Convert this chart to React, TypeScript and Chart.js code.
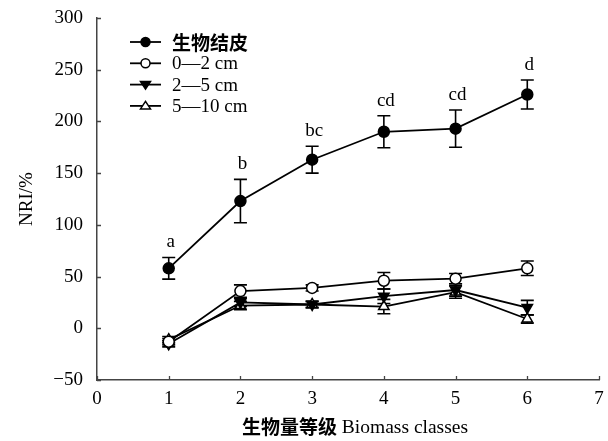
import React, { useEffect, useRef } from "react";
import { Chart, registerables } from "chart.js";

Chart.register(...registerables);

const classes = [1, 2, 3, 4, 5, 6];
const seriesNames = ["生物结皮", "0—2 cm", "2—5 cm", "5—10 cm"];
const biocrust = [58, 123, 163, 190, 193, 226];
const biocrustErr = [10.5, 21, 13, 15.5, 18, 14];
const depth0to2 = [-13, 36, 39, 46, 48, 58];
const depth0to2Err = [3, 6, 3, 8, 5, 7];
const depth2to5 = [-15, 25, 23, 31, 37, 20];
const depth2to5Err = [3, 4, 3, 7, 6, 7];
const depth5to10 = [-11, 22, 23, 21, 35, 9];
const depth5to10Err = [3, 4, 3, 7, 6, 4];
const letters = ["a", "b", "bc", "cd", "cd", "d"];
const yTicks = [-50, 0, 50, 100, 150, 200, 250, 300];
const xTicks = [0, 1, 2, 3, 4, 5, 6, 7];

const values = [biocrust, depth0to2, depth2to5, depth5to10];
const errors = [biocrustErr, depth0to2Err, depth2to5Err, depth5to10Err];
const markerStyles = [
  { style: "circle", fill: "#000", rot: 0 },
  { style: "circle", fill: "#fff", rot: 0 },
  { style: "triangle", fill: "#000", rot: 180 },
  { style: "triangle", fill: "#fff", rot: 0 },
];

const SERIF = '"Liberation Serif", "Times New Roman", serif';
const CJK = '"Noto Sans CJK SC", sans-serif';

function drawMarker(ctx: CanvasRenderingContext2D, style: string, fill: string, rot: number, x: number, y: number, r: number) {
  ctx.save();
  ctx.beginPath();
  if (style === "circle") {
    ctx.arc(x, y, r, 0, Math.PI * 2);
  } else {
    const dir = rot === 180 ? -1 : 1;
    const h = r * 1.5;
    ctx.moveTo(x, y - dir * h * 0.6);
    ctx.lineTo(x - r, y + dir * h * 0.4);
    ctx.lineTo(x + r, y + dir * h * 0.4);
    ctx.closePath();
  }
  ctx.fillStyle = fill;
  ctx.fill();
  ctx.lineWidth = 1.5;
  ctx.strokeStyle = "#000";
  ctx.stroke();
  ctx.restore();
}

const overlay = {
  id: "overlay",
  beforeDatasetsDraw(chart: any) {
    const ctx = chart.ctx as CanvasRenderingContext2D;
    const xs = chart.scales.x;
    const ys = chart.scales.y;
    ctx.save();
    ctx.strokeStyle = "#000";
    ctx.lineWidth = 1.6;
    values.forEach((arr, i) => {
      arr.forEach((v, j) => {
        const e = errors[i][j];
        const x = xs.getPixelForValue(classes[j]);
        const yt = ys.getPixelForValue(v + e);
        const yb = ys.getPixelForValue(v - e);
        ctx.beginPath();
        ctx.moveTo(x, yt);
        ctx.lineTo(x, yb);
        ctx.moveTo(x - 6.5, yt);
        ctx.lineTo(x + 6.5, yt);
        ctx.moveTo(x - 6.5, yb);
        ctx.lineTo(x + 6.5, yb);
        ctx.stroke();
      });
    });
    ctx.restore();
  },
  afterDraw(chart: any) {
    const ctx = chart.ctx as CanvasRenderingContext2D;
    const xs = chart.scales.x;
    const ys = chart.scales.y;
    const area = chart.chartArea;
    ctx.save();
    // inward ticks
    ctx.strokeStyle = "#444";
    ctx.lineWidth = 1.3;
    ctx.beginPath();
    yTicks.forEach((t) => {
      const y = Math.round(ys.getPixelForValue(t)) + 0.5;
      ctx.moveTo(area.left, y);
      ctx.lineTo(area.left + 4, y);
    });
    xTicks.forEach((t) => {
      const x = Math.round(xs.getPixelForValue(t)) + 0.5;
      ctx.moveTo(x, area.bottom);
      ctx.lineTo(x, area.bottom - 4);
    });
    ctx.stroke();

    // significance letters
    ctx.fillStyle = "#000";
    ctx.font = `19px ${SERIF}`;
    ctx.textAlign = "center";
    ctx.textBaseline = "alphabetic";
    letters.forEach((l, j) => {
      const x = xs.getPixelForValue(classes[j]) + 2;
      const y = ys.getPixelForValue(biocrust[j] + biocrustErr[j]) - 10;
      ctx.fillText(l, x, y);
    });

    // legend
    const lx0 = 130;
    const lx1 = 161;
    const ly0 = 42;
    const dy = 21.3;
    seriesNames.forEach((name, i) => {
      const y = ly0 + i * dy;
      ctx.strokeStyle = "#000";
      ctx.lineWidth = 1.8;
      ctx.beginPath();
      ctx.moveTo(lx0, y);
      ctx.lineTo(lx1, y);
      ctx.stroke();
      const m = markerStyles[i];
      drawMarker(ctx, m.style, m.fill, m.rot, (lx0 + lx1) / 2, y, m.style === "circle" ? 4.5 : 5);
      ctx.fillStyle = "#000";
      ctx.textAlign = "left";
      ctx.textBaseline = "middle";
      if (i === 0) {
        ctx.font = `bold 19px ${CJK}`;
      } else {
        ctx.font = `19px ${SERIF}`;
      }
      ctx.fillText(name, 172, y + 1);
    });

    // y title
    ctx.save();
    ctx.translate(27, (area.top + area.bottom) / 2);
    ctx.rotate(-Math.PI / 2);
    ctx.font = `19px ${SERIF}`;
    ctx.textAlign = "center";
    ctx.textBaseline = "middle";
    ctx.fillText("NRI/%", 0, 0);
    ctx.restore();

    // x title
    const cn = "生物量等级";
    const en = " Biomass classes";
    ctx.font = `bold 19px ${CJK}`;
    const wcn = ctx.measureText(cn).width;
    ctx.font = `19.5px ${SERIF}`;
    const wen = ctx.measureText(en).width;
    const cx = (area.left + area.right) / 2 + 7;
    const start = cx - (wcn + wen) / 2;
    ctx.textAlign = "left";
    ctx.textBaseline = "middle";
    ctx.font = `bold 19px ${CJK}`;
    ctx.fillText(cn, start, 427);
    ctx.font = `19.5px ${SERIF}`;
    ctx.fillText(en, start + wcn, 428);
    ctx.restore();
  },
};

export default function App() {
  const ref = useRef<HTMLCanvasElement | null>(null);
  useEffect(() => {
    if (!ref.current) return;
    const datasets = values.map((arr, i) => ({
      label: seriesNames[i],
      data: arr.map((v, j) => ({ x: classes[j], y: v })),
      showLine: true,
      borderColor: "#000",
      borderWidth: 1.8,
      pointStyle: markerStyles[i].style,
      pointRotation: markerStyles[i].rot,
      pointRadius: markerStyles[i].style === "circle" ? 5.5 : 6,
      pointBackgroundColor: markerStyles[i].fill,
      pointBorderColor: "#000",
      pointBorderWidth: 1.5,
      fill: false,
      tension: 0,
    }));
    const chart = new Chart(ref.current, {
      type: "scatter",
      data: { datasets },
      options: {
        animation: false,
        responsive: false,
        layout: { padding: { top: 18, right: 9, bottom: 0, left: 0 } },
        plugins: { legend: { display: false }, tooltip: { enabled: false } },
        scales: {
          x: {
            type: "linear",
            min: 0,
            max: 7,
            afterFit: (s: any) => { s.height = 61; s.paddingLeft = 0; s.paddingRight = 0; },
            afterBuildTicks: (s: any) => { s.ticks = xTicks.map((v) => ({ value: v })); },
            grid: { display: false, drawTicks: false },
            border: { display: true, color: "#444", width: 1.5 },
            ticks: { color: "#000", padding: 8, font: { family: SERIF, size: 19 } },
          },
          y: {
            type: "linear",
            min: -50,
            max: 300,
            afterFit: (s: any) => { s.width = 97; s.paddingTop = 0; s.paddingBottom = 0; },
            afterBuildTicks: (s: any) => { s.ticks = yTicks.map((v) => ({ value: v })); },
            grid: { display: false, drawTicks: false },
            border: { display: true, color: "#444", width: 1.5 },
            ticks: {
              color: "#000",
              padding: 14,
              font: { family: SERIF, size: 19 },
              callback: (v: any) => String(v).replace("-", "\u2212"),
            },
          },
        },
      },
      plugins: [overlay],
    } as any);
    return () => chart.destroy();
  }, []);
  return (
    <div style={{ position: "absolute", left: 0, top: 0, width: 608, height: 441, background: "#fff" }}>
      <canvas ref={ref} width={608} height={441} style={{ display: "block" }} />
    </div>
  );
}
